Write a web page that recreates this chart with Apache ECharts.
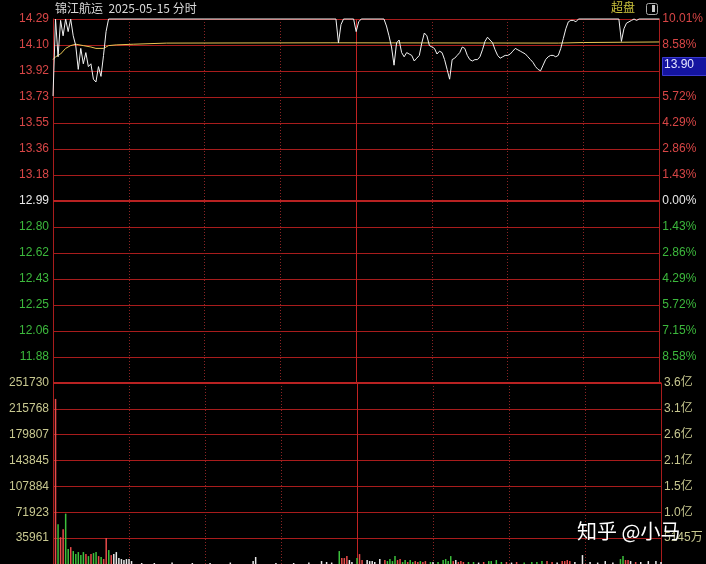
<!DOCTYPE html>
<html><head><meta charset="utf-8">
<script src="https://cdn.jsdelivr.net/npm/echarts@6/dist/echarts.min.js"></script>
<style>html,body{margin:0;padding:0;background:#000;}#c{width:706px;height:564px;}</style>
</head><body><div id="c"></div>
<script>
// ---- data ----
const titleText = '锦江航运  2025-05-15 分时';
const prevClose = 12.99;
const priceTop = 14.29;
const priceBottom = 11.69;
const volTop = 251730;
const lastPriceTag = '13.90';

// tick labels, bottom -> top
const priceLabels = ['', '11.88', '12.06', '12.25', '12.43', '12.62', '12.80', '12.99', '13.18', '13.36', '13.55', '13.73', '13.92', '14.10', '14.29'];
const pctLabels = ['', '8.58%', '7.15%', '5.72%', '4.29%', '2.86%', '1.43%', '0.00%', '1.43%', '2.86%', '4.29%', '5.72%', '7.15%', '8.58%', '10.01%'];
const volLabels = ['', '35961', '71923', '107884', '143845', '179807', '215768', '251730'];
const amtLabels = ['', '5145万', '1.0亿', '1.5亿', '2.1亿', '2.6亿', '3.1亿', '3.6亿'];

// minute (0 = 09:30, 120 = 11:30/13:00, 240 = 15:00) and price
const priceMinutes = [0,1,2,3,4,5,6,7,8,9,10,11,12,13,14,15,16,17,18,19,20,21,22,112,113,114,115,119,120,121,122,131,132,133,134,135,136,137,138,139,140,141,142,143,144,145,146,147,148,149,150,151,152,153,154,155,156,157,158,159,160,161,162,163,164,165,166,167,168,169,170,171,172,173,174,175,176,177,178,179,180,181,182,183,184,185,186,187,188,189,190,191,192,193,194,195,196,197,198,199,200,201,202,203,204,205,206,207,208,224,225,226,227,228,229,230,231,232,240];
const prices = [13.74,14.29,14.02,14.28,14.17,14.29,14.20,14.29,14.17,14.10,13.93,14.08,13.97,14.05,13.95,13.97,13.86,13.84,13.95,13.88,14.03,14.20,14.29,14.29,14.12,14.25,14.29,14.29,14.20,14.27,14.29,14.29,14.24,14.17,14.09,13.96,14.12,14.14,14.05,14.02,14.05,14.04,14.03,13.99,14.01,14.03,14.12,14.19,14.17,14.10,14.09,14.08,14.04,14.06,14.05,14.00,13.93,13.86,14.00,14.01,14.03,14.05,14.09,14.08,14.03,14.00,13.99,14.00,14.00,14.02,14.07,14.13,14.16,14.14,14.12,14.07,14.03,14.01,14.02,14.03,14.03,14.04,14.06,14.08,14.07,14.06,14.05,14.04,14.02,14.00,13.98,13.95,13.93,13.92,13.96,14.00,14.02,14.03,14.03,14.02,14.03,14.08,14.15,14.22,14.27,14.28,14.28,14.27,14.29,14.29,14.13,14.22,14.26,14.27,14.28,14.29,14.28,14.29,14.29];

// average price line
const avgMinutes = [0,1,3,5,7,9,12,15,17,20,22,25,32,45,110,200,210,240];
const avgPrices = [14.00,14.02,14.04,14.08,14.10,14.11,14.10,14.09,14.08,14.08,14.10,14.105,14.11,14.118,14.12,14.118,14.122,14.126];

// volume (lots) per minute; dir: u = up, d = down, f = flat
const volMinutes = [1,2,3,4,5,6,7,8,9,10,11,12,13,14,15,16,17,18,19,20,21,22,23,24,25,26,27,28,29,30,31,35,40,47,55,62,70,79,80,88,95,101,106,108,110,113,114,115,116,117,118,120,121,122,124,125,126,127,129,131,132,133,134,135,136,137,138,139,140,141,142,143,144,145,146,147,149,150,152,154,155,156,157,158,159,160,161,162,164,166,168,170,172,173,175,177,179,181,183,186,189,191,193,195,197,199,201,202,203,204,206,209,212,215,218,221,224,225,226,227,228,230,232,235,238,240];
const volValues = [229600,55300,37300,48400,70000,20700,23500,18000,13800,16600,12400,16600,13800,11000,13800,15200,16600,11000,9700,6900,36000,19400,12400,13800,16600,8300,6900,5500,6900,6900,4100,1400,1400,2000,1400,1400,2000,4100,9700,1400,1400,2000,4100,2800,2000,18000,8300,8300,11000,5500,2800,8300,13800,5500,5500,4100,4100,2800,6900,5500,4100,6900,4100,11000,5500,6900,2800,5500,2800,5500,2800,4100,2800,4100,2800,4100,2800,2800,2800,5500,6900,4100,11000,4100,5500,2800,4100,2800,2800,2800,2000,2800,4100,4100,5500,2800,2800,2000,2800,2000,2800,2800,4100,4100,2800,2000,4100,4100,5500,4100,2800,12400,2800,2000,4100,2000,6900,11000,5500,5500,4100,2800,2800,4100,4100,2800];
const volDirs = ['u','d','u','u','d','d','u','d','d','d','d','d','u','d','u','d','d','u','d','u','u','d','u','f','f','f','f','f','f','f','f','f','f','f','f','f','f','f','f','f','f','f','f','f','f','d','u','u','u','f','f','d','u','u','f','f','f','f','f','u','d','d','d','d','u','u','d','d','u','d','d','u','u','d','u','u','d','f','d','d','d','d','d','u','f','u','u','u','d','d','f','u','d','d','d','d','u','f','u','d','d','d','d','u','u','f','u','u','u','u','f','f','f','f','f','f','d','d','u','u','f','u','f','f','f','f'];

// ---- styles ----
const RED_LINE = '#a81c1c';
const DOT_LINE = '#8a2424';
const FONT = '"Liberation Sans", Arial, sans-serif';
const CJK = '"Noto Sans CJK SC", "Liberation Sans", sans-serif';
const dirColor = { u: '#e84a4a', d: '#3cc03c', f: '#e8e8e8' };

const rich = {
  r: { color: '#d84646', fontSize: 12, fontFamily: FONT },
  w: { color: '#e8e8e8', fontSize: 12, fontFamily: FONT },
  g: { color: '#3cb83c', fontSize: 12, fontFamily: FONT },
  y: { color: '#c8c890', fontSize: 12, fontFamily: FONT + ', ' + CJK }
};
function priceFmt(labels) {
  return function (v) {
    const i = Math.round(v) + 7;
    const t = labels[i];
    if (!t) return '';
    const k = i > 7 ? 'r' : (i === 7 ? 'w' : 'g');
    return '{' + k + '|' + t + '}';
  };
}
function volFmt(labels) {
  return function (v) {
    const t = labels[Math.round(v)];
    return t ? '{y|' + t + '}' : '';
  };
}

const priceData = priceMinutes.map((m, i) => [m, prices[i]]);
const avgData = avgMinutes.map((m, i) => [m, avgPrices[i]]);
const volData = volMinutes.map((m, i) => ({ value: [m, volValues[i]], itemStyle: { color: dirColor[volDirs[i]] } }));

const xBase = {
  type: 'value', min: 0, max: 240, interval: 30,
  axisLine: { show: false }, axisTick: { show: false }, axisLabel: { show: false },
  splitLine: { show: true, showMinLine: false, showMaxLine: false, lineStyle: { color: DOT_LINE, width: 1, type: [1, 2] } }
};

const chart = echarts.init(document.getElementById('c'), null, { renderer: 'canvas', devicePixelRatio: 1 });
chart.setOption({
  backgroundColor: '#000000',
  animation: false,
  grid: [
    { left: 53, right: 45, top: 19, height: 364 },
    { left: 53, right: 45, top: 383, height: 182 }
  ],
  xAxis: [
    Object.assign({ gridIndex: 0 }, xBase),
    Object.assign({ gridIndex: 1 }, xBase)
  ],
  yAxis: [
    { gridIndex: 0, type: 'value', min: priceBottom, max: priceTop, show: false, splitLine: { show: false } },
    { gridIndex: 0, type: 'value', min: -7, max: 7, interval: 1, position: 'left',
      axisLine: { show: true, lineStyle: { color: RED_LINE } }, axisTick: { show: false },
      axisLabel: { margin: 4, formatter: priceFmt(priceLabels), rich: rich },
      splitLine: { show: true, lineStyle: { color: RED_LINE, width: 1, type: 'solid' } } },
    { gridIndex: 0, type: 'value', min: -7, max: 7, interval: 1, position: 'right',
      axisLine: { show: true, lineStyle: { color: RED_LINE } }, axisTick: { show: false },
      axisLabel: { margin: 3, formatter: priceFmt(pctLabels), rich: rich },
      splitLine: { show: false } },
    { gridIndex: 1, type: 'value', min: 0, max: volTop, show: false, splitLine: { show: false } },
    { gridIndex: 1, type: 'value', min: 0, max: 7, interval: 1, position: 'left',
      axisLine: { show: true, lineStyle: { color: RED_LINE } }, axisTick: { show: false },
      axisLabel: { margin: 4, formatter: volFmt(volLabels), rich: rich },
      splitLine: { show: true, lineStyle: { color: RED_LINE, width: 1, type: 'solid' } } },
    { gridIndex: 1, type: 'value', min: 0, max: 7, interval: 1, position: 'right',
      axisLine: { show: true, lineStyle: { color: RED_LINE } }, axisTick: { show: false },
      axisLabel: { margin: 3, formatter: volFmt(amtLabels), rich: rich },
      splitLine: { show: false } }
  ],
  series: [
    { type: 'line', name: '价格', xAxisIndex: 0, yAxisIndex: 0, data: priceData,
      showSymbol: false, symbol: 'none', clip: false, z: 5,
      lineStyle: { color: '#f2f2f2', width: 1 },
      markLine: { silent: true, symbol: 'none', label: { show: false }, z: 1,
        data: [
          { yAxis: prevClose, lineStyle: { color: '#b82222', width: 2, type: 'solid' } },
          { xAxis: 120, lineStyle: { color: '#c02222', width: 1, type: 'solid' } }
        ] } },
    { type: 'line', name: '均价', xAxisIndex: 0, yAxisIndex: 0, data: avgData,
      showSymbol: false, symbol: 'none', clip: false, z: 4,
      lineStyle: { color: '#e8c654', width: 1 } },
    { type: 'bar', name: '成交量', xAxisIndex: 1, yAxisIndex: 3, data: volData, barWidth: 1.5, z: 4,
      markLine: { silent: true, symbol: 'none', label: { show: false }, z: 1,
        data: [
          { yAxis: volTop, lineStyle: { color: '#b82222', width: 2, type: 'solid' } },
          { xAxis: 120, lineStyle: { color: '#c02222', width: 1, type: 'solid' } }
        ] } }
  ],
  graphic: [
    { type: 'text', left: 55, top: 2, style: { text: titleText, fill: '#d8d8d8', font: '12px ' + CJK } },
    { type: 'text', left: 611, top: 1, style: { text: '超盘', fill: '#cbc23c', font: '12px ' + CJK } },
    { type: 'rect', left: 646, top: 3, shape: { width: 11, height: 11, r: 2 }, style: { fill: '#000', stroke: '#a8a8a8', lineWidth: 1 } },
    { type: 'rect', left: 652, top: 5, shape: { width: 3, height: 7 }, style: { fill: '#c8c8c8' } },
    { type: 'rect', left: 662, top: 57, z: 100, shape: { width: 44, height: 18 }, style: { fill: '#1414a0', stroke: '#3a3ad0', lineWidth: 1 } },
    { type: 'text', left: 664, top: 59, z: 101, style: { text: lastPriceTag, fill: '#e6e6ff', font: '12px ' + FONT } },
    { type: 'text', left: 577, top: 521, z: 100, style: { text: '知乎 @小马', fill: '#ffffff', font: '20px ' + CJK, textShadowColor: 'rgba(0,0,0,0.6)', textShadowBlur: 2 } }
  ]
});
</script>
</body></html>
